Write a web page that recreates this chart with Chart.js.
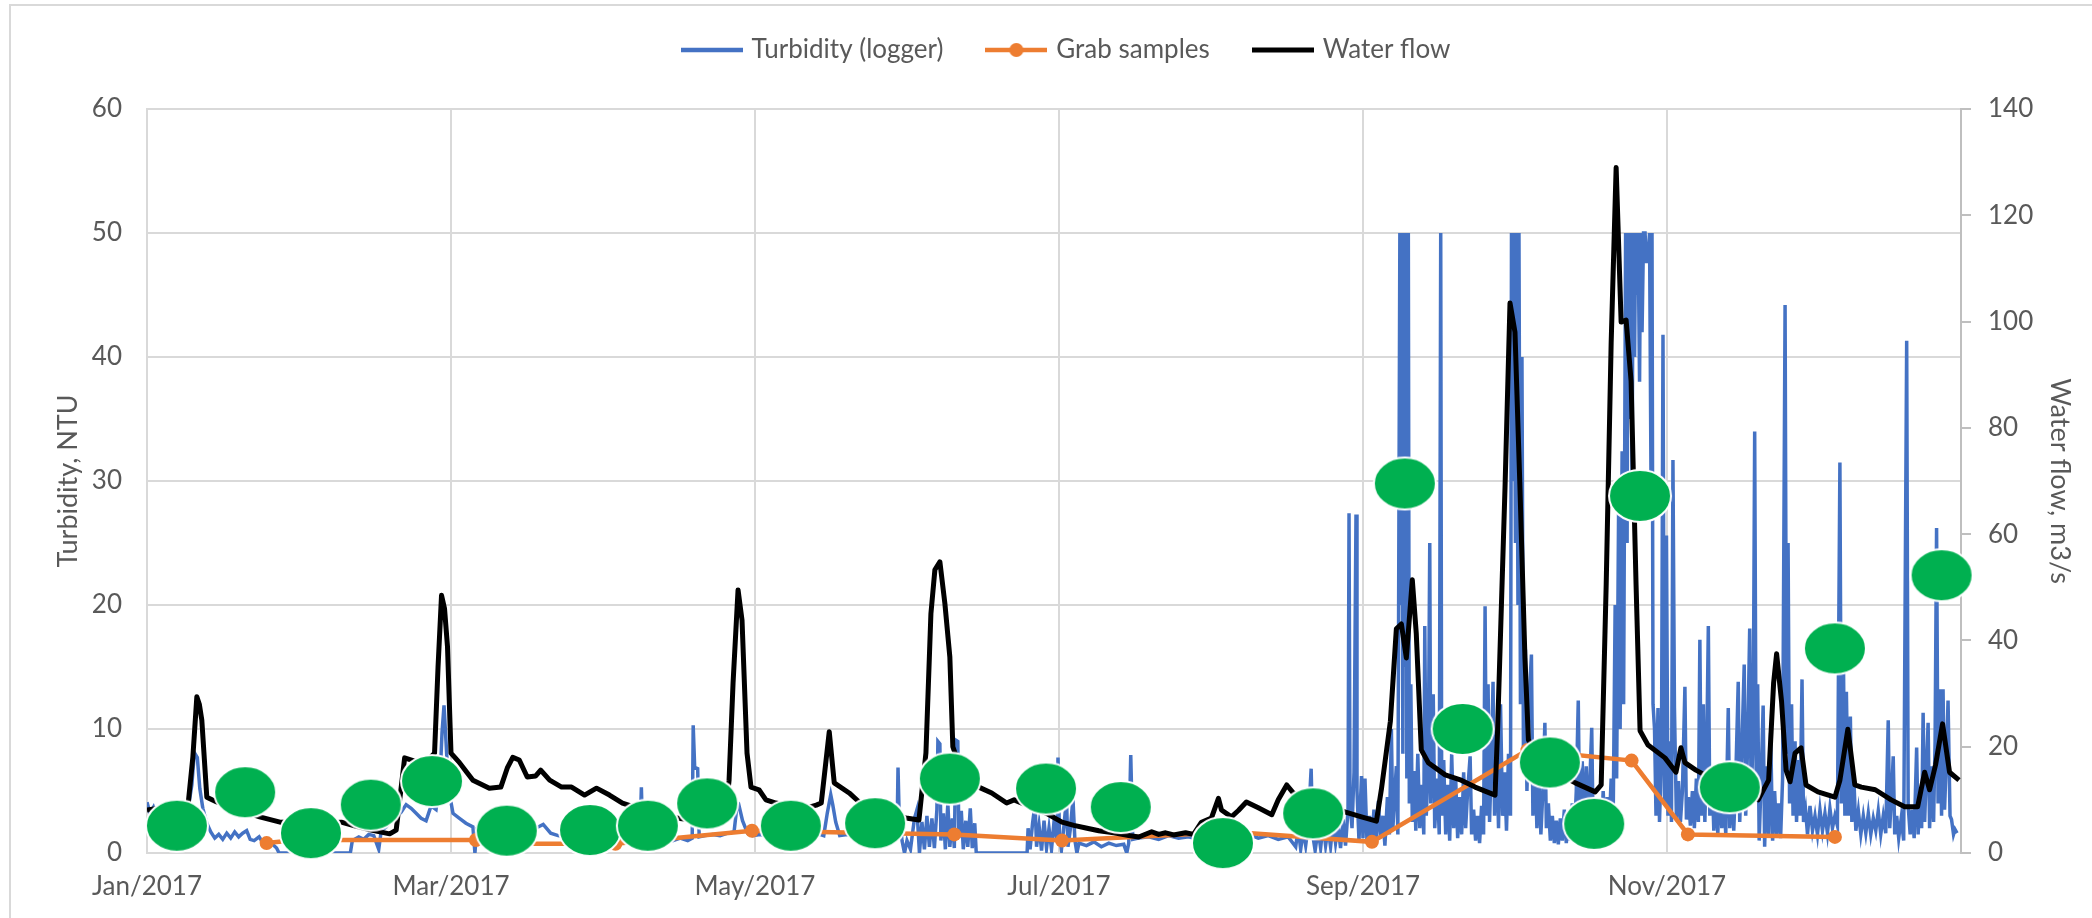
<!DOCTYPE html>
<html>
<head>
<meta charset="utf-8">
<script src="https://cdn.jsdelivr.net/npm/chart.js"></script>
<style>
  html, body { margin: 0; padding: 0; background: #fff; }
  #wrap { width: 2092px; height: 918px; }
</style>
</head>
<body>
<div id="wrap"><canvas id="chart" width="2092" height="918"></canvas></div>
<script>
// x values are days since 1 Jan 2017
var tickDays = [0, 61, 122, 183, 244, 305];
var tickLabels = ['Jan/2017', 'Mar/2017', 'May/2017', 'Jul/2017', 'Sep/2017', 'Nov/2017'];

// turbidity logger, NTU  [day, value]
var turbidity = [
  [0,4.1],[0.6,3.2],[1.3,3.7],[2,2.9],[2.8,3.4],[3.5,2.7],[4.3,3.1],[5,2.5],[5.8,2.9],[6.6,2.4],[7.4,3.0],[8.2,3.4],
  [9,5.5],[9.5,8.1],[10.1,7.7],[10.6,5.2],[11.2,3.6],[12,2.4],[12.8,1.7],[13.6,1.2],[14.4,1.5],[15.2,1.1],[16,1.6],
  [16.8,1.2],[17.6,1.7],[18.4,1.3],[19.2,1.6],[20,1.8],[20.7,1.1],[21.5,1.0],[22.5,1.3],[23.3,0.8],[24.2,0.6],[25.2,0.7],
  [26,0.4],[26.5,0],[40.8,0],[41.2,1.0],[42.5,1.3],[43.5,1.1],[44.5,1.5],[45.5,1.4],[46.5,0.3],[47,1.8],[48,2.1],
  [49,2.6],[50,2.9],[51,3.3],[52,3.9],[53,3.6],[54,3.2],[55,2.8],[56,2.6],[57,3.8],[58,3.5],[58.8,6.0],[59.2,9.7],
  [59.6,11.9],[60,9],[60.5,5.2],[61.4,3.2],
  [62.7,2.8],[64,2.4],[65.4,2.1],[65.8,0],[66.2,2.0],[67.5,2.3],[69,1.9],[70.5,2.4],[72,2.0],[73.5,2.3],[75,1.8],
  [76.5,2.2],[78,2.0],[79.5,2.3],[81,1.6],[82.5,1.4],[84,1.3],[85.5,1.5],[87,1.1],[88.5,1.2],[90,1.0],[91.5,1.2],
  [93,1.0],[94.5,1.1],[96,0.9],[97.5,1.1],[98.9,1.0],[99.2,5.3],[99.5,1.0],[101,1.1],[102.5,0.9],[104,1.1],[105.5,1.0],
  [107,1.2],[108.5,1.0],[109.4,1.2],[109.6,10.3],[109.9,6.9],[110.5,6.8],[110.8,1.3],[112,1.4],[113.5,1.5],[115,1.4],
  [116.5,1.6],[117.8,1.7],[118.3,3.5],[118.8,3.8],[119.5,2.6],[120.5,1.6],[121.5,1.4],[123,1.5],[124.5,1.3],[126,1.6],
  [127.5,1.4],[129,1.5],[130.5,1.3],[132,1.5],[133.5,1.4],[135,1.5],[135.8,1.4],[136.5,3.2],[137.2,4.7],[137.6,3.9],
  [138.2,2.5],[139,1.4],[140.5,1.5],[142,1.2],[143.5,1.4],[145,1.3],[146.5,1.1],[148,1.3],[149.5,1.2],[150.5,1.5],
  [150.7,6.9],[150.9,3.5],[151.5,1.0],[152,0],[152.5,1.0],[153.2,0.3],[154,2.8],[154.5,3.5],[155,0],
  [155.5,2.5],[156,0.3],[156.5,3.0],[157,0.5],[157.5,2.8],[158,0.4],[158.5,3.5],[158.7,9.0],[159.1,8.8],[159.3,1.0],
  [159.8,3.2],[160.2,0.3],[160.7,4.0],[161.1,0.5],[161.6,2.8],[162,0.4],[162.3,9.1],[162.7,9.0],[162.9,1.2],[163.4,3.4],
  [163.8,0.3],[164.3,2.6],[164.7,0.5],[165.2,3.6],[165.6,0.4],[166.1,2.4],[166.4,0],[176.6,0],[176.8,2.0],[177.2,0.3],
  [177.7,2.4],[178.2,4.0],[178.5,0.5],[179,2.2],[179.5,0.2],[180,2.6],[180.5,0.4],[181,2.0],[181.5,0.3],[182,2.5],
  [182.6,1.0],[182.8,7.7],[183.1,1.5],[183.5,0.3],[184,2.2],[184.5,4.4],[184.8,0.5],[185.3,2.0],[185.8,4.4],[186.2,1.0],
  [186.6,0],[187,0.8],[188.5,0.6],[190,0.9],[191.5,0.5],[193,0.8],[194.5,0.6],[196,0.7],[196.6,0],[197,0.8],[197.4,7.9],
  [197.8,1.1],[199,1.2],
  [201,1.3],[203,1.1],[205,1.4],[207,1.2],[209,1.3],[211,1.1],[213,1.4],[215,1.2],[217,1.5],[219,1.3],[221,1.5],
  [223,1.2],[225,1.4],[227,1.1],[229,1.3],[230.5,0.5],[231,2.0],[231.5,0.3],[232,1.8],[232.5,0.6],[233,2.2],[233.6,6.8],
  [233.9,1.5],[234.4,0.2],[235,1.9],[235.5,0.4],[236,2.3],[236.5,0.6],[237,2.0],[237.5,0.5],[238,2.5],[238.5,0.8],
  [239,2.2],[239.5,0.4],[240,2.7],[240.5,0.6],
  [241,3.5],[241.2,27.4],[241.4,4.0],[241.8,2.0],[242.2,6.5],[242.6,27.3],[242.8,5.0],[243.2,1.0],[243.7,6.2],[244,1.2],
  [244.4,6.0],[244.8,1.0],[245.3,3.0],[245.7,0.5],[246.2,3.5],[246.6,1.0],[247.1,4.2],[247.5,1.2],[248,3.0],[248.4,0.6],
  [248.9,4.5],[249.3,1.5],[249.7,10.0],[250,2.0],[250.4,5.0],[250.7,7.0],[251,1.5],[251.4,50],[251.6,20],[251.8,50],
  [252,8],[252.2,50],[252.4,15],[252.6,50],[252.8,6],[253.1,50],[253.3,4],[253.6,13.6],[253.9,2.5],[254.3,6.6],[254.6,1.8],
  [255,8.0],[255.4,2.0],[255.8,5.5],[256.2,1.5],[256.4,18.3],[256.7,3.0],[257.1,7.0],[257.4,25.0],[257.6,4.0],[258.1,12.8],
  [258.4,2.0],[258.9,6.0],[259.3,1.5],[259.6,50],[259.8,3.0],[260.2,7.5],[260.6,1.5],[261,5.5],[261.4,1.0],[261.8,8.0],
  [262.2,2.0],[262.6,6.0],[263,1.2],[263.4,4.5],[263.8,1.5],[264.2,6.5],[264.6,2.0],[265,5.0],[265.5,7.8],[265.8,1.5],
  [266.2,3.5],[266.6,1.0],[267,3.0],[267.4,0.8],[267.8,3.8],[268.2,1.5],[268.5,19.9],[268.8,3.0],[269.1,13.6],[269.4,2.5],
  [269.8,8.0],[270.1,13.8],[270.4,3.0],[270.8,9.0],[271.2,2.0],[271.6,12.0],[272,3.0],[272.4,6.5],[272.8,1.8],[273.2,8.0],
  [273.6,3.0],[273.8,50],[274.1,30],[274.3,50],[274.6,25],[274.8,50],[275.1,20],[275.3,50],[275.6,12],[275.9,40],
  [276.2,8],[276.6,16.4],[276.9,5.0],[277.3,12.0],[277.8,16.0],[278.1,3.0],[278.5,8.0],[278.9,2.0],[279.3,6.0],[279.7,1.5],
  [280.1,5.0],[280.5,10.5],[280.8,2.0],[281.2,4.0],[281.6,1.0],[282,3.0],[282.4,0.8],[282.8,2.6],[283.2,0.7],[283.6,2.8],
  [284,1.0],[284.4,3.5],[284.8,0.8],[285.2,3.0],[285.6,1.0],[286,4.0],[286.4,1.2],[286.8,5.0],[287.2,12.3],[287.5,2.0],
  [288,7.4],[288.3,1.5],[288.8,7.0],[289.2,2.0],[289.9,10.1],[290.2,1.5],[290.6,4.0],[291,1.0],[291.4,3.5],[291.8,1.2],
  [292.2,5.0],[292.6,1.5],[293,4.5],[293.4,2.0],[293.8,6.0],[294.2,2.5],[294.6,20.0],[294.9,6.0],[295.3,28.0],[295.6,10.0],
  [296,32.4],[296.3,12.0],[296.7,50],[297,25],[297.2,50],[297.5,35],[297.7,50],[298,30],[298.2,50],[298.5,40],[298.7,50],
  [299,45],[299.2,50],[299.5,38],[299.7,50],[300,42],[300.3,50],[300.6,50],[300.9,47.7],[301.2,47.7],[301.5,50],[301.8,30],
  [302,50],[302.2,12],
  [302.5,10.0],[302.8,3.0],[303.2,11.7],[303.5,2.5],[303.9,8.0],[304.2,41.8],[304.5,4.0],[304.9,25.6],[305.2,3.0],
  [305.6,9.0],[305.9,2.5],[306.2,31.7],[306.5,11.7],[306.9,2.7],[307.3,5.8],[307.7,2.5],[308.1,5.0],[308.6,13.4],[308.9,2.7],
  [309.3,4.5],[309.7,2.2],[310.1,5.0],[310.5,2.0],[310.9,6.0],[311.3,2.5],[311.6,17.2],[311.9,3.0],[312.3,12.0],[312.6,2.5],
  [313,9.0],[313.3,18.3],[313.6,3.0],[314,7.0],[314.4,1.8],[314.8,5.0],[315.2,1.5],[315.6,6.5],[316,2.0],[316.4,4.5],
  [316.8,1.5],[317.3,11.7],[317.6,2.0],[318,5.5],[318.4,1.8],[318.8,6.0],[319.3,13.8],[319.6,2.5],[320,8.0],[320.5,15.2],
  [320.8,3.0],[321.2,9.0],[321.6,18.1],[321.9,4.0],[322.3,10.0],[322.6,34.0],[322.9,5.0],[323.2,13.6],[323.5,1.0],
  [323.9,6.0],[324.3,11.9],[324.6,0.5],[325,7.0],[325.4,1.5],[325.8,9.7],[326.2,1.0],[326.6,5.0],[327,1.5],[327.4,4.0],
  [327.8,1.2],[328.2,6.0],[328.7,44.2],[329,8.0],[329.3,25.0],[329.6,4.0],[330,12.0],[330.3,3.0],[330.7,9.0],[331,2.5],
  [331.4,7.5],[331.7,3.0],[332.1,14.0],[332.4,2.5],[332.8,3.5],[333.2,1.5],[333.7,3.8],[334.2,1.8],[334.7,3.0],[335.2,1.5],
  [335.7,3.5],[336.2,1.8],[336.7,3.2],[337.2,1.6],[337.7,3.6],[338.2,2.0],[338.7,3.0],[339.2,2.2],[339.7,31.5],[340,4.0],
  [340.4,16.0],[340.7,3.0],[341,13.0],[341.4,3.0],[341.8,11.0],[342.1,2.5],[342.5,6.0],[342.9,1.8],[343.4,3.4],[343.9,1.5],
  [344.4,3.0],[344.9,1.6],[345.4,3.2],[345.9,1.5],[346.4,2.8],[346.9,1.8],[347.4,3.4],[347.9,1.5],[348.4,3.0],[348.9,1.6],
  [349.4,10.7],[349.7,2.0],[350.1,5.0],[350.4,7.8],[350.7,1.5],[351.1,3.0],[351.5,1.2],[352,2.8],[352.5,1.0],[353.1,41.3],
  [353.4,3.8],[353.8,1.5],[354.2,3.5],[354.6,1.2],[355.1,8.5],[355.4,1.5],[355.8,5.0],[356.1,2.0],[356.4,11.3],[356.7,2.5],
  [357,6.0],[357.4,10.5],[357.7,2.0],[358.1,7.0],[358.5,2.5],[358.8,9.0],[359.1,26.2],[359.4,4.0],[359.8,13.2],[360.1,3.0],
  [360.4,13.2],[360.7,3.5],[361.1,8.0],[361.4,12.3],[361.8,3.0],[362.1,2.7],[362.5,1.5],[362.8,1.9],[363.2,1.6]
];

// grab samples, NTU
var grabSamples = [
  [24,0.8],[30,1.05],[66,1.05],[70,0.75],[94,0.75],[121.4,1.8],[162,1.5],[183.6,1.0],[218,1.7],[245.8,0.9],
  [277,8.3],[297.9,7.45],[309.2,1.5],[338.7,1.3]
];

// water flow, m3/s
var waterFlow = [
  [0,8.1],[3,8.5],[6,8.6],[8.2,8.7],[9.2,18],[10,29.4],[10.5,28],[11,25],[12,10.5],[14,9.6],[17,8.5],[20,7.6],[22.6,6.8],
  [26.7,5.8],[30,5.9],[34,5.7],[39,5.8],[42,5.0],[45,4.3],[48.7,3.6],[50,4.3],[51.7,17.9],[54,17.2],[56.5,17.6],[57.7,18.8],
  [58.4,35],[59.1,48.5],[59.7,46],[60.3,38.8],[61,18.8],[62.7,17],[65.4,13.7],[68.7,12.2],[71,12.4],[72.3,16],[73.4,18],
  [74.7,17.5],[76.3,14.3],[78,14.5],[79,15.6],[80.8,13.7],[83.2,12.4],[85.2,12.4],[87.8,10.9],[90.2,12.2],[92.8,10.9],
  [95.4,9.4],[98,8.6],[101,7.6],[104,7.0],[107,6.5],[110,6.1],[113,5.9],[116,6.4],[116.8,13.7],[117.6,32],[118.6,49.5],
  [119.4,43.8],[120.4,18.8],[121.2,12.4],[122.8,11.9],[124.2,10],[126.2,9.4],[129,8.9],[132,8.4],[134.3,9.0],[135.3,9.4],
  [136.9,22.8],[137.9,13.2],[140.9,11.3],[142.9,9.6],[146,8.4],[149,7.4],[152.3,6.6],[154.9,6.2],[156.3,18.8],[157.3,45],
  [158.1,53.3],[159.1,54.8],[160.1,47],[161.1,36.9],[161.7,20],[163,16.5],[165,13.8],[166.9,12.4],[169.5,11.3],[172.5,9.4],
  [174,10],[177,8.8],[180.4,7.5],[183.6,5.8],[186,5.2],[188.4,4.7],[191,4.2],[194,3.8],[197,3.3],[199,3.0],[201.6,4.0],
  [203,3.5],[204.4,3.8],[206,3.4],[208.4,3.8],[210,3.5],[211.6,5.8],[213.6,6.6],[215,10.3],[215.6,8.1],[217.6,6.8],[219,8.0],
  [220.6,9.6],[223,8.5],[225.7,7.2],[227,10],[228.7,12.8],[230,11.3],[232,10.5],[235,9.4],[237.5,8.7],[240.5,7.7],[243.7,6.8],
  [246.7,6.0],[247.7,12],[249.5,24.8],[250.7,42.2],[251.7,43.1],[252.7,36.7],[253.9,51.4],[254.7,41.2],[255.7,19.4],
  [257.1,17],[260.5,14.7],[263.7,13.7],[266.5,12.4],[270.5,10.9],[271,22.8],[272.5,68.7],[273.5,103.5],[274.5,98],
  [275.5,68.7],[276.5,36.7],[277.2,21.3],[279,18],[281,16],[284,14.5],[286.6,13.2],[290.6,11.5],[291.8,12.8],[292.8,50.4],
  [293.8,96],[294.8,129],[295.8,99.9],[296.8,100.3],[297.8,88.8],[298.8,50.4],[299.6,23],[301.2,20.3],[304.6,17.9],
  [306.8,15.2],[307.8,19.8],[308.6,17],[310.8,15.6],[314,14],[317,12.8],[320,11.5],[323.3,10],[325.4,13.7],[326.4,32],
  [327,37.5],[328,28.4],[328.9,15.6],[329.7,13.4],[330.7,18.8],[331.9,19.8],[332.9,12.8],[335.3,11.5],[338.7,10.5],
  [339.7,13.7],[341.3,23.3],[342.7,12.8],[344,12.4],[346.8,11.9],[350,10],[352.7,8.7],[355.3,8.7],[356.7,15.2],[357.7,11.9],
  [358.9,16.6],[360.3,24.3],[361.7,15.2],[363.6,13.7]
];

// green blobs laid over the chart (on the NTU axis)
var greenMarks = [
  [6.0,2.2],[19.7,4.9],[32.9,1.6],[44.9,3.9],[57.2,5.8],[72.2,1.8],[88.9,1.85],[100.5,2.2],[112.4,4.0],[129.2,2.2],
  [146.1,2.4],[161.1,6.0],[180.4,5.2],[195.4,3.7],[215.9,0.8],[234,3.2],[252.4,29.8],[264,10.0],[281.5,7.3],[290.4,2.35],
  [299.6,28.8],[317.6,5.3],[338.7,16.5],[360.1,22.4]
];

var BLUE = '#4472C4', ORANGE = '#ED7D31', GREEN = '#00B050', TEXT = '#595959', GRID = '#D9D9D9';

function to_xy(arr) {
    return arr.map(function (p) { return {x: p[0], y: p[1]}; });
}

function ellipse_icon(w, h, color) {
    var c = document.createElement('canvas');
    c.width = w + 4;
    c.height = h + 4;
    var ctx = c.getContext('2d');
    ctx.beginPath();
    ctx.ellipse(c.width / 2, c.height / 2, w / 2, h / 2, 0, 0, 2 * Math.PI);
    ctx.fillStyle = color;
    ctx.fill();
    ctx.lineWidth = 2;
    ctx.strokeStyle = '#fff';
    ctx.stroke();
    return c;
}

function line_icon(color, width, dot) {
    var c = document.createElement('canvas');
    c.width = 62;
    c.height = 18;
    var ctx = c.getContext('2d');
    ctx.strokeStyle = color;
    ctx.lineWidth = width;
    ctx.beginPath();
    ctx.moveTo(0, 9);
    ctx.lineTo(62, 9);
    ctx.stroke();
    if (dot) {
        ctx.fillStyle = color;
        ctx.beginPath();
        ctx.arc(31, 9, 7, 0, 2 * Math.PI);
        ctx.fill();
    }
    return c;
}

// legend box height fixed so the plot top lands where it does in the original
var fixLegend = {
    id: 'fixLegend',
    beforeLayout: function (chart) {
        var lg = chart.legend;
        if (lg && !lg._fixed) {
            var fit = lg.fit;
            lg.fit = function () { fit.call(this); this.height = 118; };
            lg._fixed = true;
        }
    }
};

// thin frame at the left/top edge of the picture
var frame = {
    id: 'frame',
    beforeDraw: function (chart) {
        var ctx = chart.ctx;
        ctx.save();
        ctx.strokeStyle = GRID;
        ctx.lineWidth = 2;
        ctx.beginPath();
        ctx.moveTo(10, 918);
        ctx.lineTo(10, 5);
        ctx.lineTo(2092, 5);
        ctx.stroke();
        ctx.restore();
    }
};

Chart.defaults.font.family = 'Lato';
Chart.defaults.color = TEXT;

var legendIcons = [line_icon(BLUE, 4.5, false), line_icon(ORANGE, 4.5, true), line_icon('#000', 5, false)];
var legendNames = ['Turbidity (logger)', 'Grab samples', 'Water flow'];

var ctx = document.getElementById('chart').getContext('2d');
var myChart = new Chart(ctx, {
    type: 'line',
    data: {
        datasets: [{
            label: 'Turbidity (logger)',
            data: to_xy(turbidity),
            borderColor: BLUE,
            borderWidth: 3.5,
            pointRadius: 0,
            yAxisID: 'y',
            order: 3
        }, {
            label: 'Grab samples',
            data: to_xy(grabSamples),
            borderColor: ORANGE,
            backgroundColor: ORANGE,
            borderWidth: 4.5,
            pointRadius: 7,
            pointBorderWidth: 0,
            pointBackgroundColor: ORANGE,
            yAxisID: 'y',
            order: 2
        }, {
            label: 'Water flow',
            data: to_xy(waterFlow),
            borderColor: '#000',
            borderWidth: 5,
            borderJoinStyle: 'round',
            pointRadius: 0,
            yAxisID: 'y1',
            order: 1
        }, {
            label: 'marks',
            data: to_xy(greenMarks),
            showLine: false,
            pointStyle: ellipse_icon(62, 52, GREEN),
            pointRadius: 30,
            yAxisID: 'y',
            clip: false,
            order: 0
        }]
    },
    options: {
        responsive: false,
        animation: false,
        devicePixelRatio: 1,
        events: [],
        layout: { padding: { left: 43, top: -9, right: 0, bottom: 0 } },
        plugins: {
            tooltip: { enabled: false },
            legend: {
                position: 'top',
                labels: {
                    font: { size: 26 },
                    color: TEXT,
                    usePointStyle: true,
                    pointStyleWidth: 54,
                    padding: 46,
                    generateLabels: function () {
                        return legendNames.map(function (name, i) {
                            return { text: name, datasetIndex: i, pointStyle: legendIcons[i], fontColor: TEXT,
                                     fillStyle: 'transparent', strokeStyle: 'transparent', lineWidth: 0, hidden: false };
                        });
                    }
                }
            }
        },
        scales: {
            x: {
                type: 'linear',
                min: 0,
                max: 364,
                afterBuildTicks: function (s) { s.ticks = tickDays.map(function (d) { return { value: d }; }); },
                afterFit: function (s) { s.height = 65; },
                grid: { color: GRID, lineWidth: 2, drawTicks: false },
                border: { color: GRID, width: 2 },
                ticks: {
                    font: { size: 26 }, color: TEXT, padding: 18, maxRotation: 0, autoSkip: false,
                    callback: function (v, i) { return tickLabels[i]; }
                }
            },
            y: {
                position: 'left',
                min: 0,
                max: 60,
                afterFit: function (s) { s.width = 104; },
                grid: { color: GRID, lineWidth: 2, drawTicks: false },
                border: { color: GRID, width: 2 },
                ticks: { stepSize: 10, font: { size: 26 }, color: TEXT, padding: 25 },
                title: { display: true, text: 'Turbidity, NTU', color: TEXT, font: { size: 27 }, padding: { top: 9 } }
            },
            y1: {
                position: 'right',
                min: 0,
                max: 140,
                afterFit: function (s) { s.width = 131; },
                grid: { drawOnChartArea: false, color: '#BFBFBF', lineWidth: 2, tickLength: 10 },
                border: { color: '#BFBFBF', width: 2 },
                ticks: { stepSize: 20, font: { size: 26 }, color: TEXT, padding: 17 },
                title: { display: true, text: 'Water flow, m3/s', color: TEXT, font: { size: 27 }, padding: { top: 16 } }
            }
        }
    },
    plugins: [fixLegend, frame]
});
</script>
</body>
</html>
